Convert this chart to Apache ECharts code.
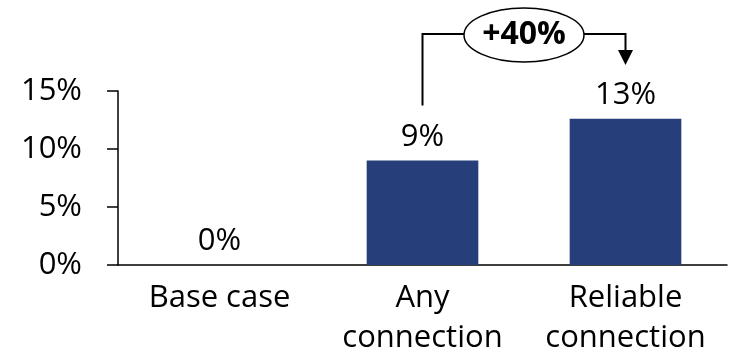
<!DOCTYPE html>
<html>
<head>
<meta charset="utf-8">
<script src="https://cdn.jsdelivr.net/npm/echarts@6/dist/echarts.min.js"></script>
<style>
html,body{margin:0;padding:0;background:#fff;}
#c{width:739px;height:358px;}
</style>
</head>
<body>
<div id="c"></div>
<script>
const categories = ['Base case', 'Any\nconnection', 'Reliable\nconnection'];
const values = [0, 9.0, 12.6];
const yTicks = [0, 5, 10, 15];
const changeLabel = '+40%';

const FONT = 'Open Sans';
const FS = 31;
const chart = echarts.init(document.getElementById('c'), null, {renderer: 'canvas'});
chart.setOption({
  animation: false,
  grid: {left: 118, right: 12, top: 91, bottom: 89, containLabel: false},
  xAxis: {
    type: 'category',
    data: categories,
    axisLine: {lineStyle: {color: '#000', width: 1.5}},
    axisTick: {show: false},
    axisLabel: {color: '#000', fontFamily: FONT, fontSize: FS, lineHeight: 40, margin: 13, interval: 0}
  },
  yAxis: {
    type: 'value',
    min: yTicks[0], max: yTicks[yTicks.length - 1], interval: 5,
    splitLine: {show: false},
    axisLine: {show: true, lineStyle: {color: '#000', width: 1.5}},
    axisTick: {show: true, inside: false, length: 11, lineStyle: {color: '#000', width: 1.5}},
    axisLabel: {color: '#000', fontFamily: FONT, fontSize: FS, margin: 36, padding: [4, 0, 0, 0],
                formatter: v => v + '%'}
  },
  series: [{
    type: 'bar',
    data: values,
    barCategoryGap: '45%',
    itemStyle: {color: '#263F7A'},
    label: {
      show: true, position: 'top', distance: 8,
      color: '#000', fontFamily: FONT, fontSize: FS,
      formatter: p => Math.round(p.value) + '%'
    }
  }]
});

// annotation bracket between bar 2 and bar 3
const p1 = chart.convertToPixel({seriesIndex: 0}, [1, values[1]]);
const p2 = chart.convertToPixel({seriesIndex: 0}, [2, values[2]]);
const topY = 34;
const cx = (p1[0] + p2[0]) / 2;
const rx = 60, ry = 27;
const startY = p1[1] - 55;
chart.setOption({
  graphic: [
    {type: 'polyline', shape: {points: [[p1[0], startY], [p1[0], topY], [cx - rx, topY]]},
     style: {stroke: '#000', lineWidth: 2, fill: null}},
    {type: 'polyline', shape: {points: [[cx + rx, topY], [p2[0], topY], [p2[0], 51]]},
     style: {stroke: '#000', lineWidth: 2, fill: null}},
    {type: 'polygon', shape: {points: [[p2[0] - 7.5, 50], [p2[0] + 7.5, 50], [p2[0], 65]]},
     style: {fill: '#000'}},
    {type: 'ellipse', shape: {cx: cx, cy: topY + 1, rx: rx, ry: ry},
     style: {fill: '#fff', stroke: '#000', lineWidth: 1.5}},
    {type: 'text', x: cx, y: topY + 1,
     style: {text: changeLabel, fontFamily: FONT, fontWeight: 'bold', fontSize: 32, fill: '#000',
             align: 'center', verticalAlign: 'middle'}}
  ]
});
</script>
</body>
</html>
